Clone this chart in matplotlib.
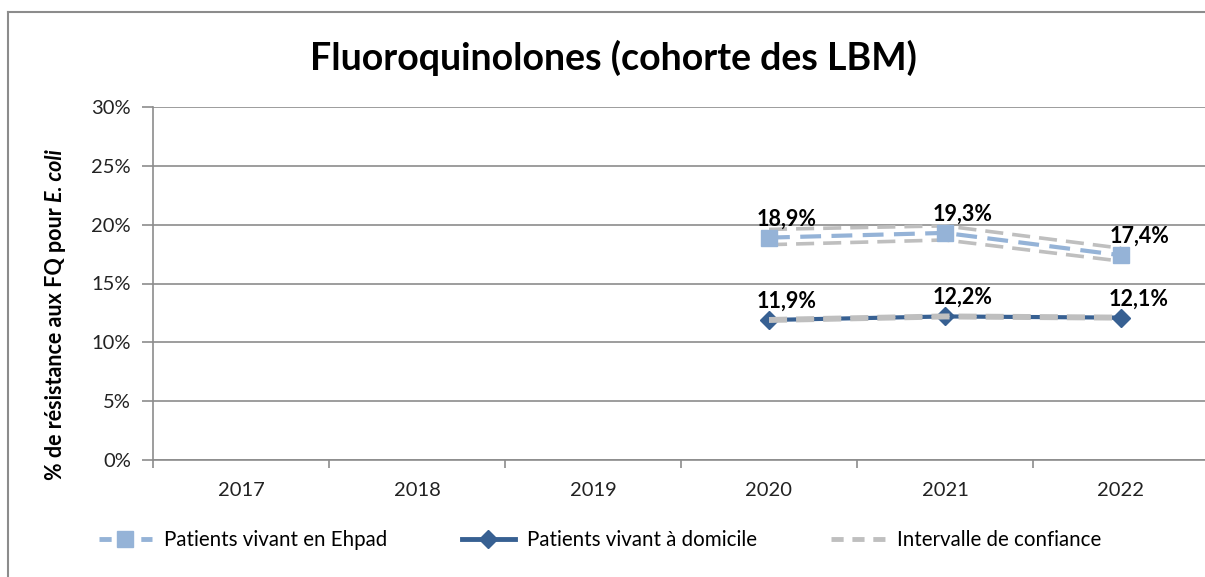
import numpy as np
import matplotlib.pyplot as plt
from matplotlib.lines import Line2D

plt.rcParams['font.family'] = ['Lato', 'DejaVu Sans']

years = ["2017", "2018", "2019", "2020", "2021", "2022"]
yticks = [0, 5, 10, 15, 20, 25, 30]

# values only for 2020-2022 (index 3..5)
idx = [3, 4, 5]
ehpad = [18.9, 19.3, 17.4]
ehpad_low = [18.3, 18.7, 16.9]
ehpad_high = [19.6, 19.9, 18.0]
domicile = [11.9, 12.2, 12.1]
domicile_low = [11.8, 12.1, 12.0]
domicile_high = [12.0, 12.3, 12.2]

c_ehpad = "#95B3D7"
c_dom = "#376092"
c_ci = "#BFBFBF"
c_grid = "#8C8C8C"
dash = (0, (5, 2.5))

fig = plt.figure(figsize=(12.05, 5.77), dpi=100)
ax = fig.add_axes([153/1205, 1-460/577, 1056/1205, 353/577])

ax.set_xlim(-0.5, 5.5)
ax.set_ylim(0, 30)
ax.set_yticks(yticks)
ax.set_yticklabels([f"{v}%" for v in yticks])
ax.set_xticks(range(len(years)))
ax.set_xticklabels(years)
ax.set_xticks(np.arange(-0.5, 6, 1), minor=True)
ax.tick_params(axis='x', which='major', length=0, labelsize=14.5, pad=16, colors='#222222')
ax.tick_params(axis='x', which='minor', length=6, color=c_grid, width=1.2, direction='out')
ax.tick_params(axis='y', length=8, color=c_grid, width=1.2, labelsize=14.5, pad=8,
               labelcolor='#222222')
ax.grid(axis='y', color=c_grid, lw=1.2)
ax.set_axisbelow(True)
for s in ['top', 'right']:
    ax.spines[s].set_visible(False)
for s in ['left', 'bottom']:
    ax.spines[s].set_color(c_grid)
    ax.spines[s].set_linewidth(1.2)

# series
ax.plot(idx, ehpad, color=c_ehpad, lw=3, ls=dash, marker='s', ms=11,
        markeredgecolor=c_ehpad, zorder=4)
ax.plot(idx, domicile, color=c_dom, lw=3, marker='D', ms=9, zorder=3)
for lo, hi in [(ehpad_low, ehpad_high), (domicile_low, domicile_high)]:
    ax.plot(idx, lo, color=c_ci, lw=2.6, ls=dash, zorder=3.5)
    ax.plot(idx, hi, color=c_ci, lw=2.6, ls=dash, zorder=3.5)

for xs, ys in [(idx, ehpad), (idx, domicile)]:
    for x, y in zip(xs, ys):
        ax.annotate(f"{y:.1f}%".replace('.', ','), (x, y), xytext=(13, 6),
                    textcoords='offset points', ha='center', va='bottom',
                    fontsize=15.5, fontweight='bold', color='black', zorder=6)

fig.text(613/1205, 1-58/577, "Fluoroquinolones (cohorte des LBM)", ha='center',
         va='center', fontsize=27, fontweight='bold')

# y label with italic part
lab = fig.text(56/1205, 1-480/577, "% de résistance aux FQ pour ", rotation=90,
               ha='center', va='bottom', fontsize=15.5, fontweight='bold')
fig.canvas.draw()
bb = lab.get_window_extent()
fig.text(56/1205, bb.y1/fig.bbox.height, "E. coli", rotation=90, ha='center',
         va='bottom', fontsize=15.5, fontweight='bold', fontstyle='italic')

handles = [
    Line2D([], [], color=c_ehpad, lw=3.5, ls=(0, (2.5, 1.8)), marker='s', ms=12,
           markeredgecolor=c_ehpad),
    Line2D([], [], color=c_dom, lw=3.5, marker='D', ms=9),
    Line2D([], [], color=c_ci, lw=3.5, ls=(0, (2.5, 1.8))),
]
labels = ["Patients vivant en Ehpad", "Patients vivant à domicile",
          "Intervalle de confiance"]
fig.legend(handles, labels, loc='center left', bbox_to_anchor=(80/1205, 1-540/577),
           ncol=3, frameon=False, fontsize=14.8, handlelength=2.6, columnspacing=3.6,
           handletextpad=0.6)

# outer chart frame (top and left visible)
fig.add_artist(Line2D([8/1205, 8/1205], [0, 1-12/577], color=c_grid, lw=1.5))
fig.add_artist(Line2D([8/1205, 1], [1-12/577, 1-12/577], color=c_grid, lw=1.5))

fig.savefig("out.png", dpi=100)
